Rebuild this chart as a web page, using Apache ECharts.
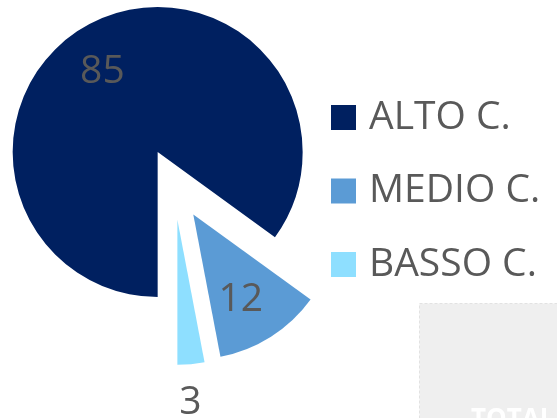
<!DOCTYPE html>
<html>
<head>
<meta charset="utf-8">
<script src="https://cdn.jsdelivr.net/npm/echarts@6/dist/echarts.min.js"></script>
<style>
html,body{margin:0;padding:0;background:#fff;}
#chart{width:557px;height:418px;}
</style>
</head>
<body>
<div id="chart"></div>
<script>
var categories = ['ALTO C.', 'MEDIO C.', 'BASSO C.'];
var values = [85, 12, 3];
var colors = ['#002060', '#5B9BD5', '#8EDFFF'];
var labelShifts = [[-21, -13], [7, 22], [6, 108]];
var totalText = 'TOTAL';

var chart = echarts.init(document.getElementById('chart'), null, {renderer: 'canvas'});
var FONT = '"Open Sans", "Noto Sans", sans-serif';

var pieData = categories.map(function (name, i) {
  return {
    name: name,
    value: values[i],
    selected: true,
    itemStyle: {color: colors[i]}
  };
});

chart.setOption({
  animation: false,
  graphic: [{
    type: 'rect',
    shape: {x: 419.5, y: 303.5, width: 150, height: 130},
    style: {fill: '#EFEFEF', stroke: '#E2E2E2', lineWidth: 1, lineDash: [3, 2]},
    z: 0
  }, {
    type: 'text',
    x: 471, y: 407,
    style: {text: totalText, fill: '#FFFFFF', font: 'bold 26px ' + FONT},
    z: 1
  }],
  legend: {
    orient: 'vertical',
    left: 331,
    top: 97.5,
    padding: 0,
    icon: 'rect',
    itemWidth: 25,
    itemHeight: 25,
    itemGap: 33.5,
    selectedMode: false,
    data: categories,
    textStyle: {
      fontFamily: FONT,
      fontSize: 39,
      color: '#595959',
      lineHeight: 40,
      padding: [0, 0, 0, 8]
    }
  },
  series: [{
    type: 'pie',
    center: [174, 184],
    radius: 145,
    startAngle: -90,
    clockwise: true,
    selectedMode: 'multiple',
    selectedOffset: 36,
    data: pieData,
    label: {
      show: true,
      position: 'inside',
      formatter: '{c}',
      fontFamily: FONT,
      fontSize: 39,
      color: '#595959'
    },
    labelLayout: function (params) {
      var s = labelShifts[params.dataIndex];
      return {dx: s[0], dy: s[1]};
    },
    labelLine: {show: false},
    emphasis: {disabled: true},
    select: {itemStyle: {borderWidth: 0}},
    itemStyle: {borderWidth: 0}
  }]
});
</script>
</body>
</html>
